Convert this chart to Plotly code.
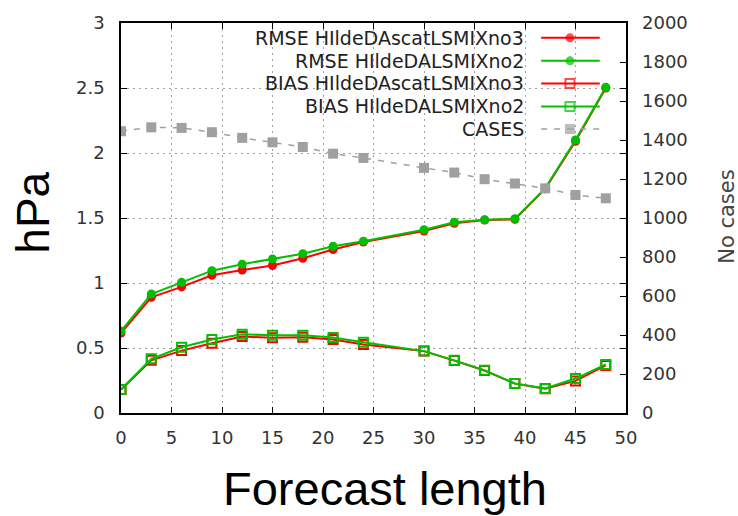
import plotly.graph_objects as go

# Forecast lead times (hours)
lead = [0, 3, 6, 9, 12, 15, 18, 21, 24, 30, 33, 36, 39, 42, 45, 48]

# Surface pressure scores (hPa)
rmse_no3 = [0.615, 0.89, 0.97, 1.06, 1.10, 1.135, 1.19, 1.257, 1.315, 1.40, 1.46, 1.485, 1.49, 1.725, 2.09, 2.50]
rmse_no2 = [0.63, 0.915, 1.005, 1.095, 1.145, 1.185, 1.225, 1.283, 1.322, 1.41, 1.468, 1.486, 1.494, 1.728, 2.10, 2.505]
bias_no3 = [0.18, 0.405, 0.48, 0.537, 0.588, 0.578, 0.583, 0.565, 0.527, 0.476, 0.403, 0.327, 0.226, 0.187, 0.247, 0.366]
bias_no2 = [0.181, 0.417, 0.506, 0.565, 0.606, 0.598, 0.598, 0.58, 0.544, 0.476, 0.405, 0.328, 0.227, 0.188, 0.265, 0.374]

# Number of verified cases
cases = [1445, 1465, 1462, 1440, 1411, 1388, 1364, 1330, 1308, 1257, 1233, 1199, 1177, 1152, 1118, 1101]

series_names = ["RMSE HIldeDAscatLSMIXno3", "RMSE HIldeDALSMIXno2",
                "BIAS HIldeDAscatLSMIXno3", "BIAS HIldeDALSMIXno2", "CASES"]

RED = "#ff0000"
GREEN = "#00c000"
GRAY = "#a0a0a0"
TICK_FONT = dict(family="DejaVu Sans", size=18, color="#333333")

styles = [
    dict(color=RED, symbol="circle", size=9, dash="solid", width=2, fill=True),
    dict(color=GREEN, symbol="circle", size=9, dash="solid", width=2, fill=True),
    dict(color=RED, symbol="square-open", size=9, dash="solid", width=2, fill=False),
    dict(color=GREEN, symbol="square-open", size=9, dash="solid", width=2, fill=False),
    dict(color=GRAY, symbol="square", size=10, dash="6px,7px", width=1.5, fill=True),
]

fig = go.Figure()

for vals, st, name in zip([rmse_no3, rmse_no2, bias_no3, bias_no2], styles[:4], series_names[:4]):
    fig.add_trace(go.Scatter(
        x=lead, y=vals, mode="lines+markers", name=name, showlegend=False,
        line=dict(color=st["color"], width=st["width"]),
        marker=dict(symbol=st["symbol"], size=st["size"], color=st["color"],
                    line=dict(color=st["color"], width=2 if not st["fill"] else 0)),
    ))

fig.add_trace(go.Scatter(
    x=lead, y=cases, mode="lines+markers", name=series_names[4], yaxis="y2", showlegend=False,
    line=dict(color=GRAY, width=1.5, dash=styles[4]["dash"]),
    marker=dict(symbol="square", size=10, color=GRAY),
))

# Key: right-aligned labels with line samples to their right
key_x0, key_xm, key_x1 = 0.832, 0.889, 0.948
key_rows = [0.962, 0.903, 0.845, 0.786, 0.728]
for name, st, ky in zip(series_names, styles, key_rows):
    fig.add_trace(go.Scatter(
        x=[key_x0, key_xm, key_x1], y=[ky, ky, ky], xaxis="x3", yaxis="y3",
        mode="lines+markers", showlegend=False, hoverinfo="skip",
        line=dict(color=st["color"], width=st["width"], dash=st["dash"]),
        marker=dict(symbol=st["symbol"], size=[0, st["size"], 0], color=st["color"],
                    line=dict(color=st["color"], width=2 if not st["fill"] else 0)),
    ))
    fig.add_annotation(x=0.802, y=ky, xref="paper", yref="paper", text=name,
                       showarrow=False, xanchor="right", yanchor="middle",
                       font=dict(family="DejaVu Sans", size=19, color="#222222"))

# Axis titles
fig.add_annotation(x=0.523, y=-0.193, xref="paper", yref="paper", text="Forecast length",
                   showarrow=False, xanchor="center", yanchor="middle",
                   font=dict(family="Liberation Sans", size=47, color="#000000"))
fig.add_annotation(x=-0.176, y=0.514, xref="paper", yref="paper", text="hPa", textangle=-90,
                   showarrow=False, xanchor="center", yanchor="middle",
                   font=dict(family="Liberation Sans", size=46, color="#000000"))
fig.add_annotation(x=1.2, y=0.503, xref="paper", yref="paper", text="No cases", textangle=-90,
                   showarrow=False, xanchor="center", yanchor="middle",
                   font=dict(family="DejaVu Sans", size=21, color="#444444"))

fig.update_layout(
    width=738, height=516,
    margin=dict(l=121, r=112, t=20, b=103),
    paper_bgcolor="white", plot_bgcolor="white",
    xaxis=dict(range=[0, 50], dtick=5, tick0=0, showgrid=True, gridcolor=GRAY, gridwidth=1,
               griddash="2px,4px", ticks="inside", ticklen=6, tickcolor="black",
               showline=True, linecolor="black", linewidth=1.5, mirror="ticks",
               zeroline=False, tickfont=TICK_FONT, ticklabelstandoff=8),
    yaxis=dict(range=[0, 3], dtick=0.5, tick0=0, showgrid=True, gridcolor=GRAY, gridwidth=1,
               griddash="2px,4px", ticks="inside", ticklen=6, tickcolor="black",
               showline=True, linecolor="black", linewidth=1.5, mirror="ticks",
               zeroline=False, tickfont=TICK_FONT, ticklabelstandoff=11),
    yaxis2=dict(range=[0, 2000], dtick=200, tick0=0, overlaying="y", side="right",
                showgrid=False, ticks="inside", ticklen=6, tickcolor="black",
                showline=False, zeroline=False, tickfont=TICK_FONT, ticklabelstandoff=15),
    xaxis3=dict(range=[0, 1], overlaying="x", visible=False),
    yaxis3=dict(range=[0, 1], overlaying="y", visible=False),
)

fig.write_html("out.html")
